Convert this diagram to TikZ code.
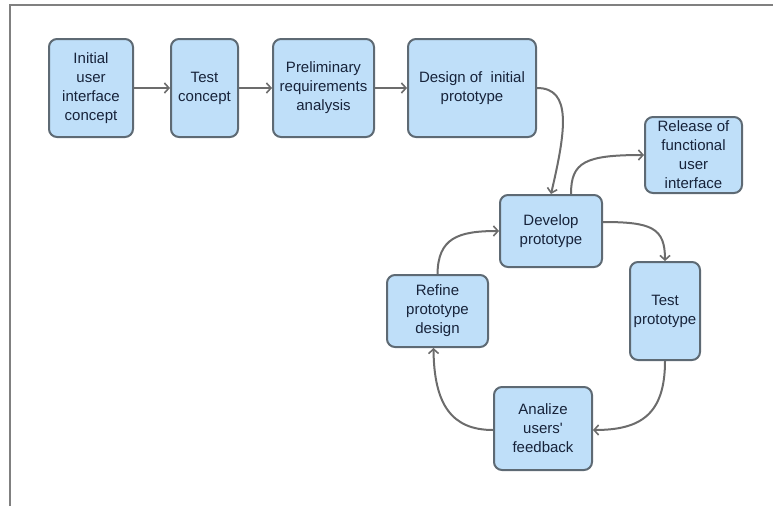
\documentclass[tikz,border=0pt]{standalone}
\usepackage{fontspec}
\setmainfont{Liberation Sans}
\usetikzlibrary{arrows.meta}
\definecolor{boxfill}{HTML}{BFDFF9}
\definecolor{boxline}{HTML}{5E6A74}
\definecolor{boxtext}{HTML}{17233A}
\definecolor{flowline}{HTML}{6C6C6C}
\definecolor{frameline}{HTML}{808080}
\begin{document}
\begin{tikzpicture}[x=1pt,y=-1pt,
  stepbox/.style={draw=boxline, fill=boxfill, line width=2pt, rounded corners=8pt,
    inner sep=0pt, align=center, text=boxtext,
    font=\fontsize{15}{19}\selectfont},
  flow/.style={draw=flowline, line width=2pt,
    -{Straight Barb[length=4.5pt,width=10pt,line width=1.6pt]}}]
\useasboundingbox (0,0) rectangle (776,506);
% page frame
\draw[frameline, line width=1.5pt] (10,506) -- (10,5) -- (773,5);

% process boxes
\node[stepbox, minimum width=84pt, minimum height=98pt] (b1) at (91,88) {Initial\\user\\interface\\concept};
\node[stepbox, minimum width=67pt, minimum height=98pt] (b2) at (204.5,88) {Test\\concept};
\node[stepbox, minimum width=101pt, minimum height=98pt] (b3) at (323.5,88) {Preliminary\\requirements\\analysis};
\node[stepbox, minimum width=128pt, minimum height=98pt] (b4) at (472,88) {Design of~ initial\\prototype};
\node[stepbox, minimum width=97pt, minimum height=76pt] (b5) at (693.5,155) {Release of\\functional\\user\\interface};
\node[stepbox, minimum width=102pt, minimum height=72pt] (b6) at (551,231) {Develop\\prototype};
\node[stepbox, minimum width=70pt, minimum height=98pt] (b7) at (665,311) {Test\\prototype};
\node[stepbox, minimum width=101pt, minimum height=72pt] (b8) at (437.5,311) {Refine\\prototype\\design};
\node[stepbox, minimum width=98pt, minimum height=83pt] (b9) at (543,428.5) {Analize\\users\textquotesingle\\feedback};

% linear phase
\draw[flow] (b1) -- (b2);
\draw[flow] (b2) -- (b3);
\draw[flow] (b3) -- (b4);
\draw[flow] (b4.east) .. controls (572,88) and (566,130) .. (b6.north);

% release branch
\draw[flow] ([xshift=20pt]b6.north) .. controls (571,162) and (585,155) .. (b5.west);

% iteration loop
\draw[flow] ([yshift=9pt]b6.east) .. controls (652,222) and (665,228) .. (b7.north);
\draw[flow] (b7.south) .. controls (665,415) and (640,430) .. ([yshift=-1.5pt]b9.east);
\draw[flow] ([yshift=-1.5pt]b9.west) .. controls (452,430) and (434,405) .. ([xshift=-4pt]b8.south);
\draw[flow] (b8.north) .. controls (438,238) and (458,231) .. (b6.west);
\end{tikzpicture}
\end{document}
